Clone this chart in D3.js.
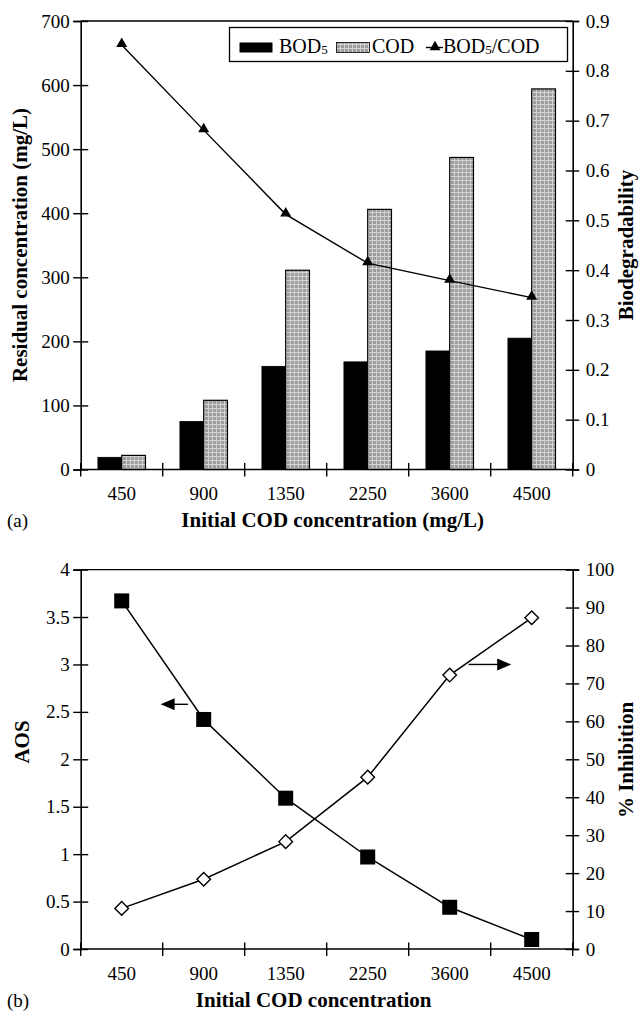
<!DOCTYPE html>
<html><head><meta charset="utf-8">
<script src="https://cdn.jsdelivr.net/npm/d3@7"></script>
<style>
html,body{margin:0;padding:0;background:#fff;}
svg text{font-family:"Liberation Serif","Times New Roman",serif;fill:#000;}
</style></head>
<body>
<svg id="chart" width="643" height="1014"></svg>
<script>
// ---------- data ----------
const categories = ["450","900","1350","2250","3600","4500"];
const bod5 = [19, 75, 161, 168, 185, 205];
const cod = [22, 108, 311, 406, 487, 594];
const biodeg = [0.852, 0.681, 0.512, 0.414, 0.379, 0.345];
const aos = [3.67, 2.42, 1.59, 0.97, 0.44, 0.10];
const inhibition = [10.7, 18.4, 28.3, 45.3, 72.2, 87.3];
const residualTicks = [0,100,200,300,400,500,600,700];
const bioTicks = [0,0.1,0.2,0.3,0.4,0.5,0.6,0.7,0.8,0.9];
const aosTicks = [0,0.5,1,1.5,2,2.5,3,3.5,4];
const inhibTicks = [0,10,20,30,40,50,60,70,80,90,100];

const svg = d3.select("#chart");
const L = 80.7, R = 572.7;
const TICK_FONT = 19, TITLE_FONT = 21;

const defs = svg.append("defs");
const pat = defs.append("pattern").attr("id","codPat").attr("patternUnits","userSpaceOnUse")
  .attr("width",4).attr("height",4);
pat.append("rect").attr("width",4).attr("height",4).attr("fill","#9c9c9c");
pat.append("rect").attr("x",0).attr("y",0).attr("width",1).attr("height",4).attr("fill","#d4d4d4");
pat.append("rect").attr("x",0).attr("y",0).attr("width",4).attr("height",1).attr("fill","#d4d4d4");

const x = d3.scaleBand().domain(categories).range([L, R]).paddingInner(0.42).paddingOuter(0.21);
const cx = c => x(c) + x.bandwidth()/2;

function crossTicks(g, inside) {
  g.selectAll(".tick line").attr("x1", inside).attr("stroke-width",1.4);
}
function frame(g, top, bottom) {
  g.append("line").attr("x1",L).attr("x2",R).attr("y1",top).attr("y2",top).attr("stroke","#000").attr("stroke-width",1.4);
  // category ticks crossing bottom axis
  const bounds = d3.range(categories.length+1).map(i => L + i*x.step());
  g.selectAll(".ctick").data(bounds).join("line")
    .attr("x1",d=>d).attr("x2",d=>d).attr("y1",bottom-6.5).attr("y2",bottom+7)
    .attr("stroke","#000").attr("stroke-width",1.4);
  g.append("line").attr("x1",L).attr("x2",R).attr("y1",bottom).attr("y2",bottom).attr("stroke","#000").attr("stroke-width",1.6);
  g.selectAll(".xlab").data(categories).join("text")
    .attr("x",d=>cx(d)).attr("y",bottom+30.5).attr("text-anchor","middle")
    .attr("font-size",TICK_FONT).text(d=>d);
}
function yAxes(g, yL, yR, lTicks, rTicks, fmtL, fmtR) {
  const aL = g.append("g").attr("transform",`translate(${L},0)`)
    .call(d3.axisLeft(yL).tickValues(lTicks).tickFormat(fmtL).tickSize(7.5).tickPadding(3.5));
  aL.select(".domain").attr("stroke-width",1.6);
  crossTicks(aL, 7.5);
  aL.selectAll("text").attr("font-size",TICK_FONT).attr("font-family",null);
  const aR = g.append("g").attr("transform",`translate(${R},0)`)
    .call(d3.axisRight(yR).tickValues(rTicks).tickFormat(fmtR).tickSize(6.5).tickPadding(6.5));
  aR.select(".domain").attr("stroke-width",1.6);
  crossTicks(aR, -7);
  aR.selectAll("text").attr("font-size",TICK_FONT).attr("font-family",null);
}
function vTitle(g, text, xpos, ypos) {
  g.append("text").attr("transform",`translate(${xpos},${ypos}) rotate(-90)`)
    .attr("text-anchor","middle").attr("font-size",TITLE_FONT).attr("font-weight","bold").text(text);
}

// ================= chart (a) =================
const top1 = 21, bot1 = 469.5;
const yRes = d3.scaleLinear().domain([0,700]).range([bot1, top1]);
const yBio = d3.scaleLinear().domain([0,0.9]).range([bot1, top1]);
const gA = svg.append("g");
yAxes(gA, yRes, yBio, residualTicks, bioTicks, d3.format("d"), d => d===0 ? "0" : d3.format(".1f")(d));

const sub = d3.scaleBand().domain(["BOD5","COD"]).range([0, x.bandwidth()]);
const rows = categories.map((c,i)=>({c, BOD5:bod5[i], COD:cod[i]}));
const grp = gA.selectAll(".grp").data(rows).join("g").attr("transform",d=>`translate(${x(d.c)},0)`);
grp.append("rect").attr("x",sub("BOD5")).attr("width",sub.bandwidth())
  .attr("y",d=>yRes(d.BOD5)).attr("height",d=>bot1-yRes(d.BOD5))
  .attr("fill","#000").attr("stroke","#000").attr("stroke-width",0.8);
grp.append("rect").attr("x",sub("COD")).attr("width",sub.bandwidth())
  .attr("y",d=>yRes(d.COD)).attr("height",d=>bot1-yRes(d.COD))
  .attr("fill","url(#codPat)").attr("stroke","#000").attr("stroke-width",1.2);

frame(gA, top1, bot1);

const line1 = d3.line().x((d,i)=>cx(categories[i])).y(d=>yBio(d));
gA.append("path").datum(biodeg).attr("d",line1).attr("fill","none").attr("stroke","#000").attr("stroke-width",1.4);
const tri = d3.symbol(d3.symbolTriangle, 52);
gA.selectAll(".tri").data(biodeg).join("path")
  .attr("d",tri).attr("transform",(d,i)=>`translate(${cx(categories[i])},${yBio(d)-1})`).attr("fill","#000");

// legend
const lg = gA.append("g");
lg.append("rect").attr("x",229.5).attr("y",27.5).attr("width",338).attr("height",34)
  .attr("fill","#fff").attr("stroke","#000").attr("stroke-width",1.3);
lg.append("rect").attr("x",239.5).attr("y",42.5).attr("width",33).attr("height",10).attr("fill","#000");
const t1 = lg.append("text").attr("x",279).attr("y",53).attr("font-size",20);
t1.append("tspan").text("BOD");
t1.append("tspan").attr("font-size",13).attr("dy",1).text("5");
lg.append("rect").attr("x",336.5).attr("y",42.5).attr("width",33).attr("height",10)
  .attr("fill","url(#codPat)").attr("stroke","#000").attr("stroke-width",0.8);
lg.append("text").attr("x",372).attr("y",53).attr("font-size",20).text("COD");
lg.append("line").attr("x1",426).attr("x2",443).attr("y1",47.5).attr("y2",47.5).attr("stroke","#000").attr("stroke-width",1.4);
lg.append("path").attr("d",tri).attr("transform","translate(435,47)").attr("fill","#000");
const t2 = lg.append("text").attr("x",443).attr("y",53).attr("font-size",20);
t2.append("tspan").text("BOD");
t2.append("tspan").attr("font-size",13).attr("dy",1).text("5");
t2.append("tspan").attr("dy",-1).text("/COD");

vTitle(gA, "Residual concentration (mg/L)", 27, 245);
vTitle(gA, "Biodegradability", 633, 245);
gA.append("text").attr("x",(L+R)/2 + 6).attr("y",527).attr("text-anchor","middle")
  .attr("font-size",TITLE_FONT).attr("font-weight","bold").text("Initial COD concentration (mg/L)");
gA.append("text").attr("x",7).attr("y",527).attr("font-size",19).text("(a)");

// ================= chart (b) =================
const top2 = 569.6, bot2 = 949;
const yAos = d3.scaleLinear().domain([0,4]).range([bot2, top2]);
const yInh = d3.scaleLinear().domain([0,100]).range([bot2, top2]);
const gB = svg.append("g");
yAxes(gB, yAos, yInh, aosTicks, inhibTicks, d3.format("~g"), d3.format("d"));
frame(gB, top2, bot2);

const lineA = d3.line().x((d,i)=>cx(categories[i])).y(d=>yAos(d));
const lineI = d3.line().x((d,i)=>cx(categories[i])).y(d=>yInh(d));
gB.append("path").datum(aos).attr("d",lineA).attr("fill","none").attr("stroke","#000").attr("stroke-width",1.5);
gB.append("path").datum(inhibition).attr("d",lineI).attr("fill","none").attr("stroke","#000").attr("stroke-width",1.5);
gB.selectAll(".sq").data(aos).join("rect")
  .attr("x",(d,i)=>cx(categories[i])-7.5).attr("y",d=>yAos(d)-7.5)
  .attr("width",15).attr("height",15).attr("fill","#000");
gB.selectAll(".dm").data(inhibition).join("path")
  .attr("d","M0,-6.8L6.8,0L0,6.8L-6.8,0Z")
  .attr("transform",(d,i)=>`translate(${cx(categories[i])},${yInh(d)})`)
  .attr("fill","#fff").attr("stroke","#000").attr("stroke-width",1.4);

// axis-indicator arrows
const arrowL = {y: yAos(2.58), tip: cx("450") + 0.475*x.step(), tail: cx("450") + 0.81*x.step()};
gB.append("line").attr("x1",arrowL.tip+12).attr("x2",arrowL.tail).attr("y1",arrowL.y).attr("y2",arrowL.y)
  .attr("stroke","#000").attr("stroke-width",1.4);
gB.append("path").attr("d",`M${arrowL.tip},${arrowL.y}L${arrowL.tip+14},${arrowL.y-6}L${arrowL.tip+14},${arrowL.y+6}Z`).attr("fill","#000");
const arrowR = {y: yInh(75), tail: cx("3600") + 0.23*x.step(), tip: cx("4500") - 0.25*x.step()};
gB.append("line").attr("x1",arrowR.tail).attr("x2",arrowR.tip-12).attr("y1",arrowR.y).attr("y2",arrowR.y)
  .attr("stroke","#000").attr("stroke-width",1.4);
gB.append("path").attr("d",`M${arrowR.tip},${arrowR.y}L${arrowR.tip-14},${arrowR.y-6}L${arrowR.tip-14},${arrowR.y+6}Z`).attr("fill","#000");

vTitle(gB, "AOS", 29, 742);
vTitle(gB, "% Inhibition", 633, 760);
gB.append("text").attr("x",(L+R)/2 - 13).attr("y",1007).attr("text-anchor","middle")
  .attr("font-size",TITLE_FONT).attr("font-weight","bold").text("Initial COD concentration");
gB.append("text").attr("x",7).attr("y",1007).attr("font-size",19).text("(b)");
</script>
</body></html>
